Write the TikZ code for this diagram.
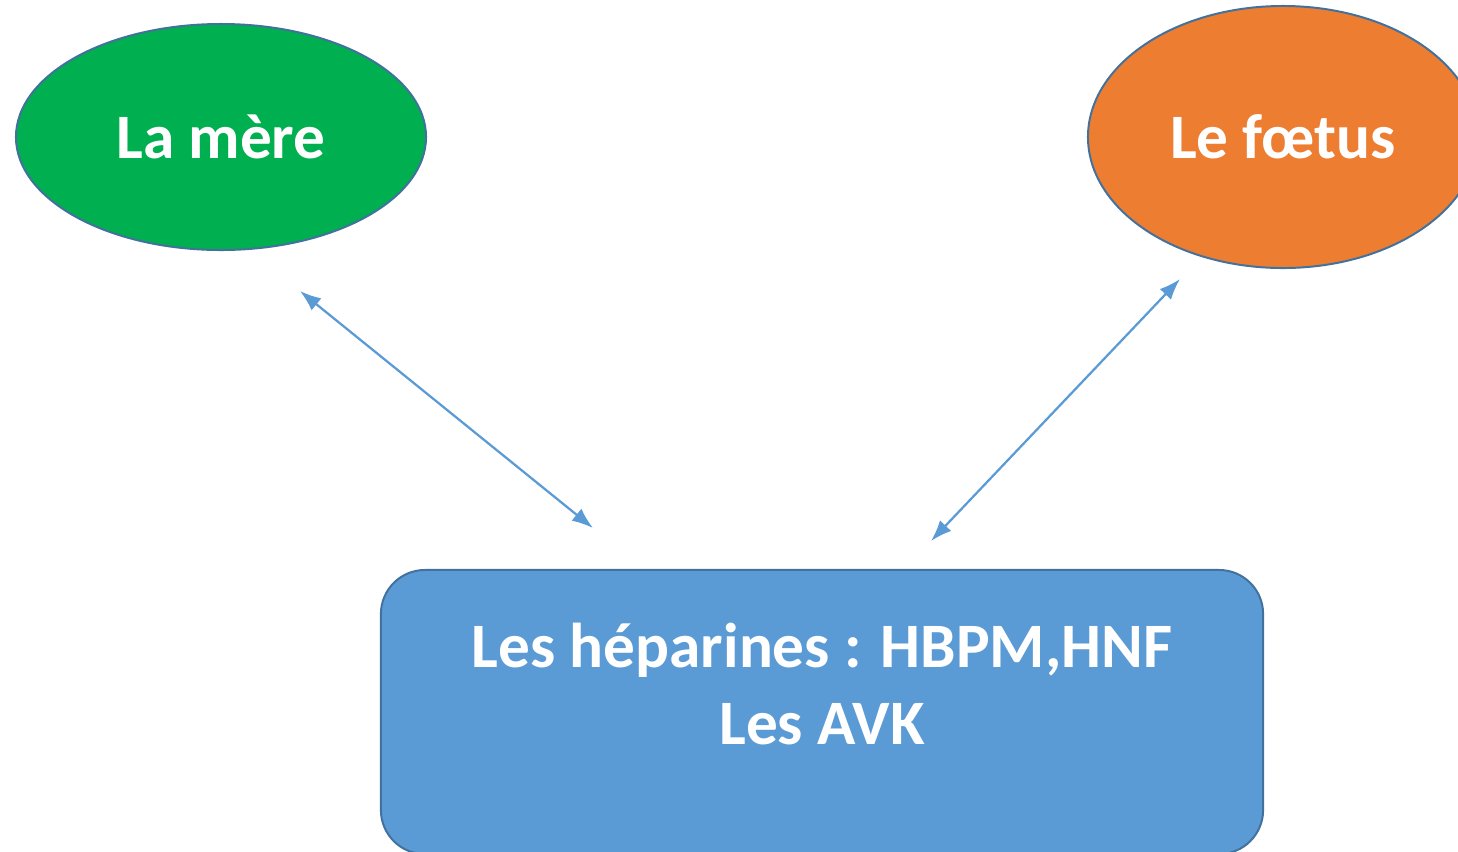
\documentclass[tikz,border=0pt]{standalone}
\usepackage{fontspec}
\setmainfont{Carlito}
\usetikzlibrary{shapes.geometric,arrows.meta}
\definecolor{bord}{HTML}{41719C}
\definecolor{fleche}{HTML}{5B9BD5}
\definecolor{vert}{HTML}{00B050}
\definecolor{orange}{HTML}{ED7D31}
\tikzset{
  bulle/.style={ellipse, draw=bord, line width=1.4pt, inner sep=0pt, text=white,
    font=\bfseries\fontsize{45}{55}\selectfont},
  lien/.style={{Latex[length=15pt,width=11pt]}-{Latex[length=15pt,width=11pt]}, fleche, line width=1.6pt}
}
\begin{document}
\begin{tikzpicture}[x=0.025cm, y=-0.025cm]
  \useasboundingbox (0,0) rectangle (1458,851);
  \clip (0,0) rectangle (1458,851);
  % les deux ellipses
  \node[bulle, fill=vert, minimum width=10.25cm, minimum height=5.65cm] (mere) at (221,137) {La mère};
  \node[bulle, fill=orange, minimum width=9.75cm, minimum height=6.55cm] (foetus) at (1283,137) {Le fœtus};
  % le traitement
  \node[draw=bord, fill=fleche, line width=1.4pt, rounded corners=1.1cm,
        minimum width=22.05cm, minimum height=7.1cm] (traitement) at (822,712) {};
  \node[text=white, align=center, font=\bfseries\fontsize{45}{55}\selectfont] (texte)
        at (822,684) {Les héparines : HBPM,HNF\\Les AVK};
  % fleches
  \coordinate (m1) at (300,291);
  \coordinate (m2) at (593,528);
  \coordinate (f1) at (1180,279);
  \coordinate (f2) at (931,541);
  \draw[lien] (m1) -- (m2);
  \draw[lien] (f1) -- (f2);
\end{tikzpicture}
\end{document}
